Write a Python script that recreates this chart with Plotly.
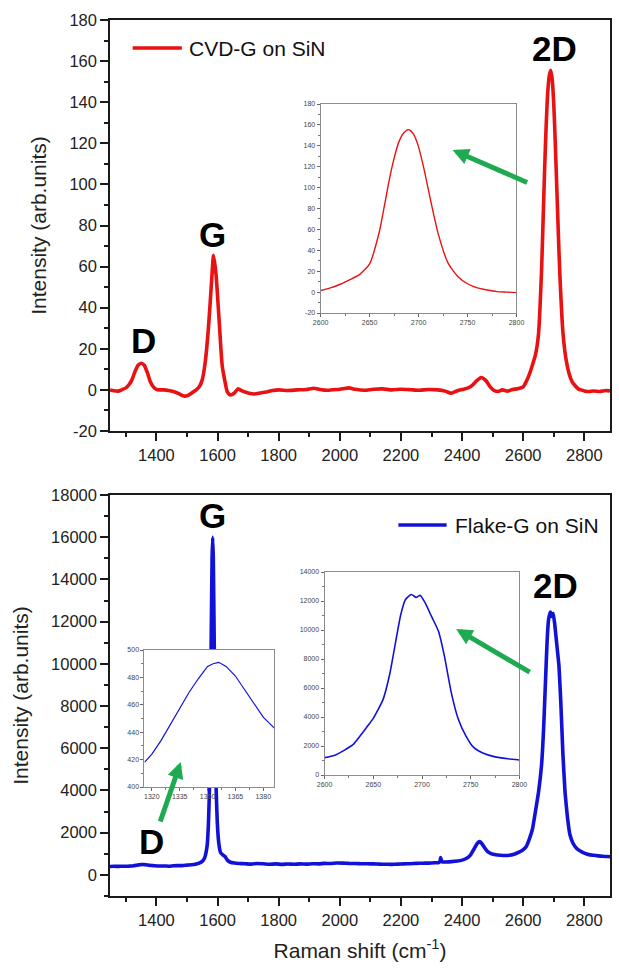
import plotly.graph_objects as go

# ---------------- data: CVD-G on SiN (top panel) ----------------
cvd_shift_low = [1248, 1260, 1275, 1290, 1300, 1310, 1320, 1330, 1340, 1350,
                 1360, 1370, 1380, 1390, 1400, 1410, 1425, 1440, 1460, 1475,
                 1490, 1505, 1520, 1530, 1540, 1550, 1560, 1570, 1580, 1587,
                 1595, 1605, 1615, 1623, 1632, 1642, 1655, 1667, 1680, 1700,
                 1720, 1740, 1760, 1780, 1800, 1830, 1860, 1890, 1915, 1935,
                 1960, 1990, 2010, 2030, 2050, 2080, 2110, 2140, 2170, 2200,
                 2230, 2260, 2290, 2320, 2345, 2364, 2385, 2405, 2420, 2435,
                 2448, 2463, 2478, 2492, 2505, 2518, 2532, 2548, 2565, 2580,
                 2590]
cvd_int_low = [0, -0.4, -0.6, 0.3, 1, 2.5, 5, 9, 12, 13,
               12, 8.5, 4, 1.5, 0.3, 0, 0, -0.3, -1, -2,
               -3, -2.5, -1, 0, 1.5, 5, 14, 30, 52, 65.5,
               56, 34, 12, 5, -1, -2.5, -1.5, 0.5, -0.5, -1.5,
               -2, -1.5, -1, -0.3, 0, -0.3, 0, 0.2, 0.8, 0.2,
               -0.2, 0.2, 0.6, 1, 0.3, -0.2, 0.3, 0.5, 0, 0.3,
               0.1, -0.2, 0.2, 0, -0.6, -1.6, -0.4, 0.3, 1, 2.5,
               4.5, 6, 4.5, 1.5, -0.3, -0.8, 0, -0.6, 0.2, 0.5,
               0.9]
cvd_2d_shift = [2600, 2610, 2620, 2630, 2640, 2650, 2660, 2665, 2670, 2675,
                2680, 2685, 2690, 2695, 2700, 2705, 2710, 2715, 2720, 2730,
                2740, 2750, 2760, 2770, 2780, 2790, 2800]
cvd_2d_int = [1.5, 4, 7.5, 12, 17, 27, 58, 82, 107, 128,
              144, 152.5, 155.5, 151, 139, 120, 98, 76, 56, 28,
              15, 8, 4, 2, 0.5, 0, -0.5]
cvd_shift_high = [2815, 2830, 2850, 2870, 2884]
cvd_int_high = [-0.8, -0.5, -0.8, -0.3, -0.5]

# ---------------- data: Flake-G on SiN (bottom panel) ----------------
flake_shift_low = [1248, 1262, 1276, 1290, 1303, 1310]
flake_int_low = [400, 408, 402, 412, 410, 414]
flake_d_shift = [1316, 1320, 1325, 1330, 1335, 1340, 1345, 1350, 1353, 1356,
                 1360, 1365, 1370, 1375, 1380, 1386]
flake_d_int = [418, 424, 434, 446, 458, 469, 479, 488, 490, 491,
               488, 481, 471, 461, 451, 443]
flake_shift_mid = [1395, 1410, 1425, 1440, 1455, 1470, 1485, 1500, 1515, 1530,
                   1540, 1550, 1558, 1566, 1570, 1573, 1576, 1579, 1582, 1584,
                   1586, 1589, 1592, 1595, 1599, 1604, 1610, 1617, 1624, 1632,
                   1642, 1655, 1670, 1690, 1710, 1730, 1750, 1770, 1790, 1810,
                   1830, 1850, 1870, 1890, 1910, 1930, 1950, 1970, 1990, 2010,
                   2030, 2050, 2070, 2090, 2110, 2130, 2150, 2170, 2190, 2210,
                   2230, 2250, 2270, 2290, 2310, 2322, 2327, 2330, 2334, 2345,
                   2365, 2385, 2400, 2415, 2428, 2440, 2450, 2457, 2464, 2472,
                   2482, 2495, 2510, 2525, 2540, 2555, 2570, 2582, 2592]
flake_int_mid = [430, 418, 425, 412, 430, 440, 438, 462, 480, 520,
                 560, 640, 820, 1400, 2400, 3800, 6500, 11000, 15000, 16000,
                 15000, 11000, 6500, 4200, 2500, 1500, 1050, 950, 880, 700,
                 600, 560, 540, 525, 510, 540, 525, 505, 520, 500,
                 515, 505, 520, 510, 530, 520, 545, 540, 565, 560,
                 545, 540, 530, 525, 520, 510, 505, 500, 510, 520,
                 530, 545, 555, 560, 575, 580, 620, 820, 620, 610,
                 630, 660, 700, 790, 950, 1250, 1500, 1580, 1500, 1320,
                 1130, 1010, 950, 930, 920, 930, 980, 1050, 1120]
flake_2d_shift = [2600, 2610, 2620, 2630, 2640, 2645, 2650, 2660, 2667, 2673,
                  2678, 2683, 2689, 2694, 2698, 2703, 2710, 2717, 2723, 2730,
                  2737, 2745, 2753, 2763, 2775, 2788, 2800]
flake_2d_int = [1200, 1350, 1700, 2150, 3000, 3450, 3900, 5200, 7000, 9200,
                11000, 12100, 12450, 12250, 12400, 11900, 10900, 9900, 8200, 5700,
                3900, 2700, 1900, 1500, 1250, 1120, 1030]
flake_shift_high = [2815, 2830, 2845, 2860, 2875, 2884]
flake_int_high = [960, 930, 900, 880, 870, 860]

# tick labels (plain hyphen-minus, full numbers)
top_ticks = [-20, 0, 20, 40, 60, 80, 100, 120, 140, 160, 180]
bot_ticks = [0, 2000, 4000, 6000, 8000, 10000, 12000, 14000, 16000, 18000]
ins2_ticks = [0, 2000, 4000, 6000, 8000, 10000, 12000, 14000]
ins3_ticks = [400, 420, 440, 460, 480, 500]

cvd_shift = cvd_shift_low + cvd_2d_shift + cvd_shift_high
cvd_int = cvd_int_low + cvd_2d_int + cvd_int_high
flake_shift = flake_shift_low + flake_d_shift + flake_shift_mid + flake_2d_shift + flake_shift_high
flake_int = flake_int_low + flake_d_int + flake_int_mid + flake_2d_int + flake_int_high

# ---------------- layout geometry ----------------
W, H = 619, 976
L, R, T, B = 110, 1, 20, 80
PW = W - L - R
PH = H - T - B


def px(x):
    return (x - L) / PW


def py(y):
    return (H - B - y) / PH


RED = "rgb(232,18,18)"
BLUE = "rgb(18,18,215)"
GREEN = "rgb(30,170,80)"
FONT = "Liberation Sans, Arial, sans-serif"
INK = "#1a1a1a"

X_MAIN = [1248, 2884]
X_2D = [2600, 2800]
X_D = [1316, 1386]
Y3 = [400, 500]

# axis ids: bottom panel = x/y, top panel = x2/y2, insets = x3..x5
fig = go.Figure()
fig.add_trace(go.Scatter(x=flake_shift, y=flake_int, mode="lines", name="Flake-G on SiN",
                         line=dict(color=BLUE, width=3.6, shape="spline", smoothing=0.4),
                         xaxis="x", yaxis="y", showlegend=False))
fig.add_trace(go.Scatter(x=cvd_shift, y=cvd_int, mode="lines", name="CVD-G on SiN",
                         line=dict(color=RED, width=3.6, shape="spline", smoothing=0.6),
                         xaxis="x2", yaxis="y2", showlegend=False))
fig.add_trace(go.Scatter(x=cvd_2d_shift, y=cvd_2d_int, mode="lines",
                         line=dict(color=RED, width=1.4, shape="spline", smoothing=0.6),
                         xaxis="x3", yaxis="y3", showlegend=False))
fig.add_trace(go.Scatter(x=flake_2d_shift, y=flake_2d_int, mode="lines",
                         line=dict(color=BLUE, width=1.6, shape="spline", smoothing=0.5),
                         xaxis="x4", yaxis="y4", showlegend=False))
# opaque background for the small D-band inset (hides the main G line behind it)
fig.add_trace(go.Scatter(x=[X_D[0], X_D[1], X_D[1], X_D[0], X_D[0]],
                         y=[Y3[0], Y3[0], Y3[1], Y3[1], Y3[0]],
                         mode="lines", fill="toself", fillcolor="white",
                         line=dict(width=0, color="white"), hoverinfo="skip",
                         xaxis="x5", yaxis="y5", showlegend=False))
fig.add_trace(go.Scatter(x=flake_d_shift, y=flake_d_int, mode="lines",
                         line=dict(color=BLUE, width=1.2), xaxis="x5", yaxis="y5",
                         showlegend=False))

main_common = dict(showline=True, linecolor=INK, linewidth=1.5, mirror=True,
                   ticks="outside", ticklen=8, tickwidth=1.5, tickcolor=INK,
                   showgrid=False, zeroline=False,
                   tickfont=dict(family=FONT, size=16.5, color="#222"))
ins_common = dict(showline=True, linecolor="#8c8c8c", linewidth=1, mirror=True,
                  ticks="outside", ticklen=3, tickwidth=1, tickcolor="#666",
                  showgrid=False, zeroline=False,
                  tickfont=dict(family=FONT, size=7, color="#444"))
title_font = dict(family=FONT, size=21, color="#222")
main_minor_x = dict(dtick=100, ticks="outside", ticklen=4, tickwidth=1.5, tickcolor=INK)

top_dom = [py(431), 1.0]
bot_dom = [0.0, py(495)]

fig.update_layout(
    width=W, height=H,
    margin=dict(l=L, r=R, t=T, b=B),
    paper_bgcolor="white", plot_bgcolor="white",
    font=dict(family=FONT, color="#222"),
    # bottom panel
    xaxis=dict(domain=[0, 1], range=X_MAIN, dtick=200, tick0=0, anchor="y",
               minor=main_minor_x,
               title=dict(text="Raman shift (cm<sup>-1</sup>)", font=title_font, standoff=16),
               **main_common),
    yaxis=dict(domain=bot_dom, range=[-1000, 18000], tickmode="array", tickvals=bot_ticks,
               ticktext=[str(v) for v in bot_ticks], anchor="x",
               minor=dict(dtick=1000, ticks="outside", ticklen=4, tickwidth=1.5, tickcolor=INK),
               title=dict(text="Intensity (arb.units)", font=title_font, standoff=17),
               **main_common),
    # top panel
    xaxis2=dict(domain=[0, 1], range=X_MAIN, dtick=200, tick0=0, anchor="y2",
                minor=main_minor_x, **main_common),
    yaxis2=dict(domain=top_dom, range=[-20, 180], tickmode="array", tickvals=top_ticks,
                ticktext=[str(v) for v in top_ticks], anchor="x2",
                minor=dict(dtick=10, ticks="outside", ticklen=4, tickwidth=1.5, tickcolor=INK),
                title=dict(text="Intensity (arb.units)", font=title_font, standoff=17),
                **main_common),
    # insets
    xaxis3=dict(domain=[px(324), px(523)], range=X_2D, dtick=50, anchor="y3",
                minor=dict(dtick=25, ticks="outside", ticklen=2, tickcolor="#777"), **ins_common),
    yaxis3=dict(domain=[py(313), py(104)], range=[-20, 180], tickmode="array", tickvals=top_ticks,
                ticktext=[str(v) for v in top_ticks], anchor="x3",
                minor=dict(dtick=10, ticks="outside", ticklen=2, tickcolor="#777"), **ins_common),
    xaxis4=dict(domain=[px(328), px(526)], range=X_2D, dtick=50, anchor="y4",
                minor=dict(dtick=25, ticks="outside", ticklen=2, tickcolor="#777"), **ins_common),
    yaxis4=dict(domain=[py(775), py(572)], range=[0, 14000], tickmode="array", tickvals=ins2_ticks,
                ticktext=[str(v) for v in ins2_ticks], anchor="x4",
                minor=dict(dtick=1000, ticks="outside", ticklen=2, tickcolor="#777"), **ins_common),
    xaxis5=dict(domain=[px(145), px(277)], range=X_D, dtick=15, tick0=1320, anchor="y5",
                minor=dict(dtick=7.5, ticks="outside", ticklen=2, tickcolor="#777"), **ins_common),
    yaxis5=dict(domain=[py(787), py(650)], range=Y3, tickmode="array", tickvals=ins3_ticks,
                ticktext=[str(v) for v in ins3_ticks], anchor="x5",
                minor=dict(dtick=10, ticks="outside", ticklen=2, tickcolor="#777"), **ins_common),
)

# peak labels
labels = [
    ("x2", "y2", 1356.5, 23.8, "D"),
    ("x2", "y2", 1582.5, 75.8, "G"),
    ("x2", "y2", 2701.6, 166.2, "2D"),
    ("x", "y", 1582.5, 17006, "G"),
    ("x", "y", 1384.5, 1606, "D"),
    ("x", "y", 2704.8, 13689, "2D"),
]
for xr, yr, xv, yv, t in labels:
    fig.add_annotation(x=xv, y=yv, xref=xr, yref=yr, text="<b>%s</b>" % t,
                       showarrow=False, xanchor="center", yanchor="middle",
                       font=dict(family=FONT, size=35, color="black"))

# green arrows pointing into the insets
arrows = [
    ("x2", "y2", 2369, 116.7, 76, 33),
    ("x", "y", 2380.7, 11651, 75, 44),
    ("x", "y", 1479.5, 5349, -21, 61),
]
for xr, yr, xv, yv, axp, ayp in arrows:
    fig.add_annotation(x=xv, y=yv, xref=xr, yref=yr, ax=axp, ay=ayp, text="",
                       showarrow=True, arrowhead=2, arrowsize=0.65, arrowwidth=5,
                       arrowcolor=GREEN, standoff=0)

# legends (line sample + name)
for (x0, x1, yl, xt, name, col) in [(133, 183, 48, 188, "CVD-G on SiN", RED),
                                     (403, 452, 525, 458, "Flake-G on SiN", BLUE)]:
    fig.add_shape(type="line", xref="paper", yref="paper", x0=px(x0), x1=px(x1),
                  y0=py(yl), y1=py(yl), line=dict(color=col, width=3.5))
    fig.add_annotation(x=px(xt), y=py(yl), xref="paper", yref="paper", text=name,
                       showarrow=False, xanchor="left", yanchor="middle",
                       font=dict(family=FONT, size=21, color="#111"))

fig.write_html("out.html")
